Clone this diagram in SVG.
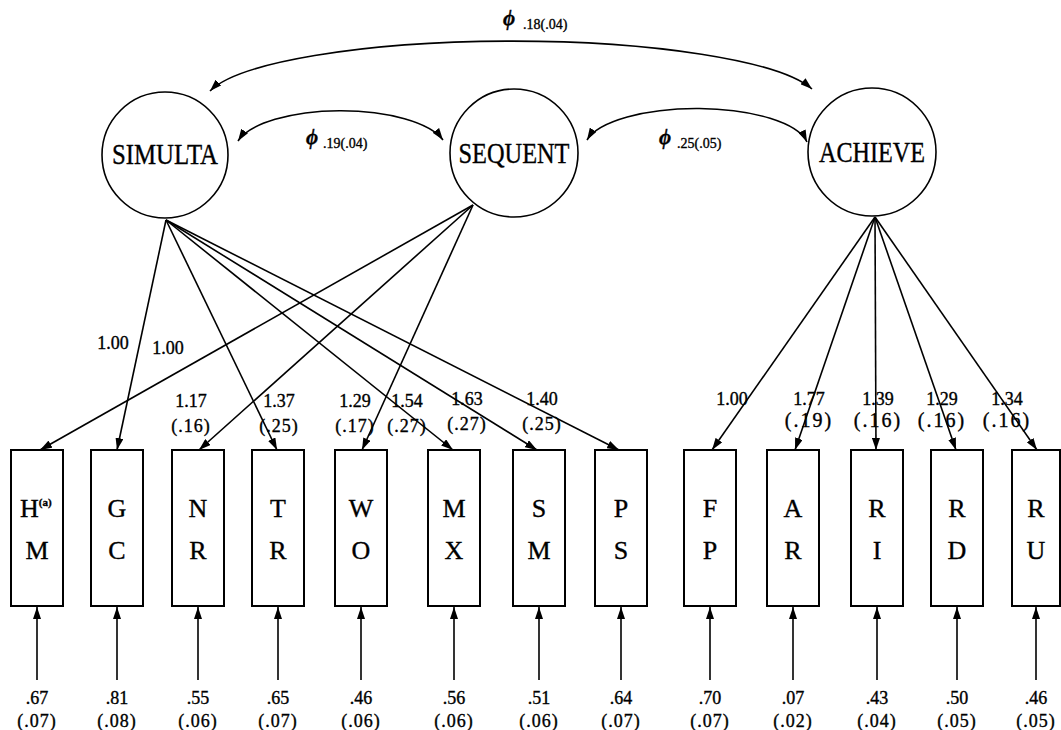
<svg xmlns="http://www.w3.org/2000/svg" width="1061" height="730" viewBox="0 0 1061 730">
<style>
.bg{fill:#fff}
.box{fill:#fff;stroke:#000;stroke-width:2}
.lat{fill:#fff;stroke:#000;stroke-width:1.6}
.ln{fill:none;stroke:#000;stroke-width:1.6}
.t{font-family:"Liberation Serif","DejaVu Serif",serif;fill:#000;stroke:#000;stroke-width:0.35}
.lt{font-size:29px;text-anchor:middle}
.bl{font-size:26px;text-anchor:middle}
.num{font-size:18px;text-anchor:middle}
.par{font-size:18px;text-anchor:middle;letter-spacing:1px}
.par2{font-size:20px;text-anchor:middle;letter-spacing:2px}
.phi{font-size:21px;font-style:italic;font-weight:bold}
.sub{font-size:14px}
</style>
<defs>
<marker id="ah" viewBox="0 0 12 8" refX="12" refY="4" markerWidth="12" markerHeight="8" markerUnits="userSpaceOnUse" orient="auto-start-reverse">
<path d="M0,0 L12,4 L0,8 Z" fill="#000"/>
</marker>
</defs>
<rect class="bg" x="0" y="0" width="1061" height="730"/>

<g id="connectors">
<path class="ln" d="M210,91 A308,62 0 0 1 812,89" marker-start="url(#ah)" marker-end="url(#ah)"/>
<path class="ln" d="M238,141 A106,40 0 0 1 443,140" marker-start="url(#ah)" marker-end="url(#ah)"/>
<path class="ln" d="M587,140 A112,40 0 0 1 807,142" marker-start="url(#ah)" marker-end="url(#ah)"/>
<line class="ln" x1="166" y1="220" x2="117" y2="450" marker-end="url(#ah)"/>
<line class="ln" x1="166" y1="220" x2="277" y2="450" marker-end="url(#ah)"/>
<line class="ln" x1="166" y1="220" x2="453" y2="450" marker-end="url(#ah)"/>
<line class="ln" x1="166" y1="220" x2="537" y2="450" marker-end="url(#ah)"/>
<line class="ln" x1="166" y1="220" x2="619" y2="450" marker-end="url(#ah)"/>
<line class="ln" x1="473" y1="205" x2="40" y2="450" marker-end="url(#ah)"/>
<line class="ln" x1="473" y1="205" x2="199" y2="450" marker-end="url(#ah)"/>
<line class="ln" x1="473" y1="205" x2="362" y2="450" marker-end="url(#ah)"/>
<line class="ln" x1="875" y1="217" x2="712" y2="450" marker-end="url(#ah)"/>
<line class="ln" x1="875" y1="217" x2="795" y2="450" marker-end="url(#ah)"/>
<line class="ln" x1="875" y1="217" x2="876" y2="450" marker-end="url(#ah)"/>
<line class="ln" x1="875" y1="217" x2="956" y2="450" marker-end="url(#ah)"/>
<line class="ln" x1="875" y1="217" x2="1037" y2="450" marker-end="url(#ah)"/>
<line class="ln" x1="37" y1="680" x2="37" y2="607" marker-end="url(#ah)"/>
<line class="ln" x1="117" y1="680" x2="117" y2="607" marker-end="url(#ah)"/>
<line class="ln" x1="198" y1="680" x2="198" y2="607" marker-end="url(#ah)"/>
<line class="ln" x1="278" y1="680" x2="278" y2="607" marker-end="url(#ah)"/>
<line class="ln" x1="361" y1="680" x2="361" y2="607" marker-end="url(#ah)"/>
<line class="ln" x1="454" y1="680" x2="454" y2="607" marker-end="url(#ah)"/>
<line class="ln" x1="539" y1="680" x2="539" y2="607" marker-end="url(#ah)"/>
<line class="ln" x1="621" y1="680" x2="621" y2="607" marker-end="url(#ah)"/>
<line class="ln" x1="710" y1="680" x2="710" y2="607" marker-end="url(#ah)"/>
<line class="ln" x1="793" y1="680" x2="793" y2="607" marker-end="url(#ah)"/>
<line class="ln" x1="877" y1="680" x2="877" y2="607" marker-end="url(#ah)"/>
<line class="ln" x1="957" y1="680" x2="957" y2="607" marker-end="url(#ah)"/>
<line class="ln" x1="1036" y1="680" x2="1036" y2="607" marker-end="url(#ah)"/>
</g>

<g id="cov-labels" class="t">
<text x="503" y="25"><tspan class="phi">ϕ</tspan><tspan class="sub" x="523" y="29">.18(.04)</tspan></text>
<text x="306" y="144"><tspan class="phi">ϕ</tspan><tspan class="sub" x="323" y="148">.19(.04)</tspan></text>
<text x="659" y="144"><tspan class="phi">ϕ</tspan><tspan class="sub" x="677" y="148">.25(.05)</tspan></text>
</g>

<g id="loading-labels" class="t">
<text class="num" x="113" y="349">1.00</text>
<text class="num" x="168" y="354">1.00</text>
<text class="num" x="191" y="407">1.17</text><text class="par" x="191" y="432">(.16)</text>
<text class="num" x="279" y="407">1.37</text><text class="par" x="279" y="432">(.25)</text>
<text class="num" x="355" y="407">1.29</text><text class="par" x="355" y="432">(.17)</text>
<text class="num" x="407" y="407">1.54</text><text class="par" x="407" y="432">(.27)</text>
<text class="num" x="467" y="405">1.63</text><text class="par" x="467" y="430">(.27)</text>
<text class="num" x="542" y="405">1.40</text><text class="par" x="542" y="430">(.25)</text>
<text class="num" x="732" y="405">1.00</text>
<text class="num" x="809" y="405">1.77</text><text class="par2" x="809" y="427">(.19)</text>
<text class="num" x="878" y="405">1.39</text><text class="par2" x="878" y="427">(.16)</text>
<text class="num" x="942" y="405">1.29</text><text class="par2" x="942" y="427">(.16)</text>
<text class="num" x="1007" y="405">1.34</text><text class="par2" x="1007" y="427">(.16)</text>
</g>

<g id="SIMULTA"><circle class="lat" cx="165" cy="155" r="63"/><text class="t lt" x="165" y="164" textLength="106" lengthAdjust="spacingAndGlyphs">SIMULTA</text></g>
<g id="SEQUENT"><circle class="lat" cx="514" cy="153" r="64"/><text class="t lt" x="514" y="163" textLength="111" lengthAdjust="spacingAndGlyphs">SEQUENT</text></g>
<g id="ACHIEVE"><circle class="lat" cx="872" cy="152" r="64"/><text class="t lt" x="872" y="162" textLength="106" lengthAdjust="spacingAndGlyphs">ACHIEVE</text></g>

<g id="HM"><rect class="box" x="11" y="450" width="52" height="156"/><text class="t" x="20" y="517" font-size="26">H<tspan font-size="11" font-weight="bold" dy="-11">(a)</tspan></text><text class="t bl" x="37" y="559">M</text></g>
<g id="GC"><rect class="box" x="91" y="450" width="52" height="156"/><text class="t bl" x="117" y="517">G</text><text class="t bl" x="117" y="559">C</text></g>
<g id="NR"><rect class="box" x="172" y="450" width="52" height="156"/><text class="t bl" x="198" y="517">N</text><text class="t bl" x="198" y="559">R</text></g>
<g id="TR"><rect class="box" x="252" y="450" width="52" height="156"/><text class="t bl" x="278" y="517">T</text><text class="t bl" x="278" y="559">R</text></g>
<g id="WO"><rect class="box" x="335" y="450" width="52" height="156"/><text class="t bl" x="361" y="517">W</text><text class="t bl" x="361" y="559">O</text></g>
<g id="MX"><rect class="box" x="428" y="450" width="52" height="156"/><text class="t bl" x="454" y="517">M</text><text class="t bl" x="454" y="559">X</text></g>
<g id="SM"><rect class="box" x="513" y="450" width="52" height="156"/><text class="t bl" x="539" y="517">S</text><text class="t bl" x="539" y="559">M</text></g>
<g id="PS"><rect class="box" x="595" y="450" width="52" height="156"/><text class="t bl" x="621" y="517">P</text><text class="t bl" x="621" y="559">S</text></g>
<g id="FP"><rect class="box" x="684" y="450" width="52" height="156"/><text class="t bl" x="710" y="517">F</text><text class="t bl" x="710" y="559">P</text></g>
<g id="AR"><rect class="box" x="767" y="450" width="52" height="156"/><text class="t bl" x="793" y="517">A</text><text class="t bl" x="793" y="559">R</text></g>
<g id="RI"><rect class="box" x="851" y="450" width="52" height="156"/><text class="t bl" x="877" y="517">R</text><text class="t bl" x="877" y="559">I</text></g>
<g id="RD"><rect class="box" x="931" y="450" width="52" height="156"/><text class="t bl" x="957" y="517">R</text><text class="t bl" x="957" y="559">D</text></g>
<g id="RU"><rect class="box" x="1012" y="450" width="48" height="156"/><text class="t bl" x="1036" y="517">R</text><text class="t bl" x="1036" y="559">U</text></g>

<g id="error-labels" class="t">
<text class="num" x="37" y="704">.67</text><text class="par" x="37" y="727">(.07)</text>
<text class="num" x="117" y="704">.81</text><text class="par" x="117" y="727">(.08)</text>
<text class="num" x="198" y="704">.55</text><text class="par" x="198" y="727">(.06)</text>
<text class="num" x="278" y="704">.65</text><text class="par" x="278" y="727">(.07)</text>
<text class="num" x="361" y="704">.46</text><text class="par" x="361" y="727">(.06)</text>
<text class="num" x="454" y="704">.56</text><text class="par" x="454" y="727">(.06)</text>
<text class="num" x="539" y="704">.51</text><text class="par" x="539" y="727">(.06)</text>
<text class="num" x="621" y="704">.64</text><text class="par" x="621" y="727">(.07)</text>
<text class="num" x="710" y="704">.70</text><text class="par" x="710" y="727">(.07)</text>
<text class="num" x="793" y="704">.07</text><text class="par" x="793" y="727">(.02)</text>
<text class="num" x="877" y="704">.43</text><text class="par" x="877" y="727">(.04)</text>
<text class="num" x="957" y="704">.50</text><text class="par" x="957" y="727">(.05)</text>
<text class="num" x="1036" y="704">.46</text><text class="par" x="1036" y="727">(.05)</text>
</g>
</svg>
